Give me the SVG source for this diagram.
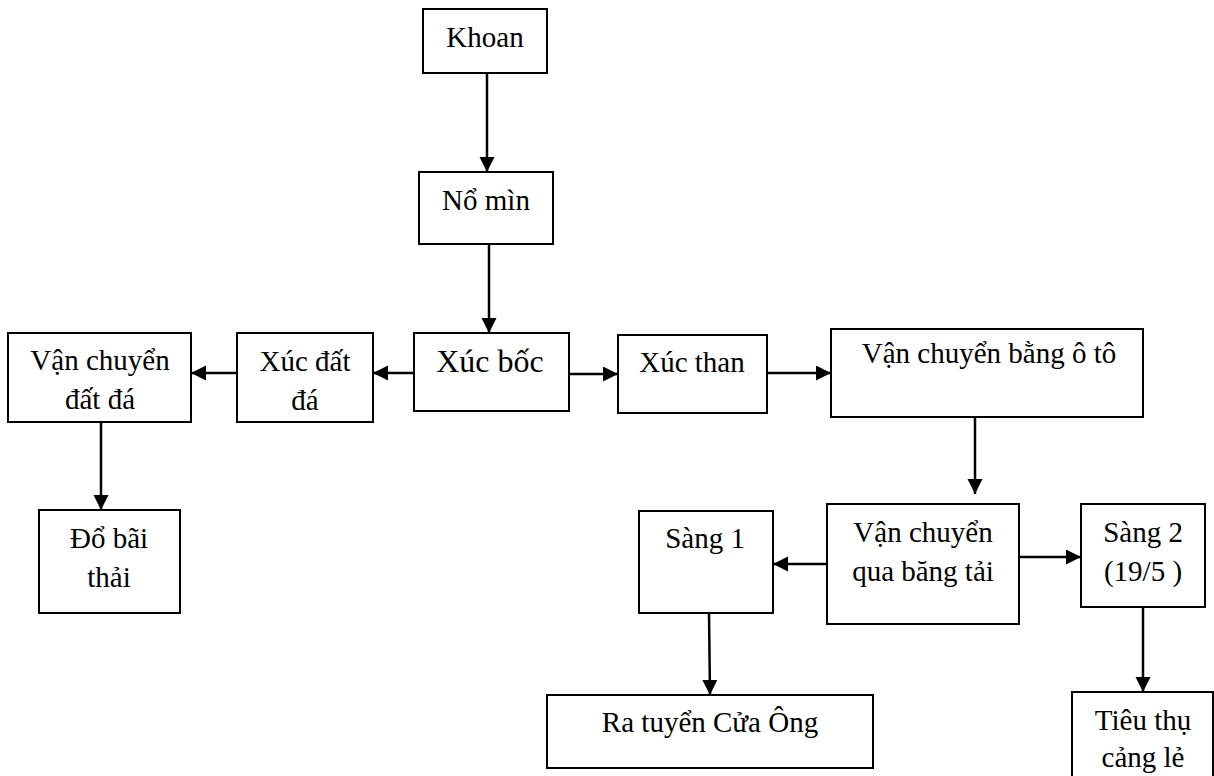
<svg xmlns="http://www.w3.org/2000/svg" width="1214" height="776" viewBox="0 0 1214 776">
  <style>
    .box { fill: #ffffff; stroke: #000000; stroke-width: 2; }
    .lbl { font-family: "Liberation Serif", "Times New Roman", serif; font-size: 29px; fill: #000000; text-anchor: middle; }
    .big { font-size: 32px; }
    .flow { fill: none; stroke: #000000; stroke-width: 2.5; marker-end: url(#head); }
  </style>
  <defs>
    <marker id="head" markerUnits="userSpaceOnUse" markerWidth="16" markerHeight="16" viewBox="0 0 16 16" refX="15" refY="7.5" orient="auto">
      <path d="M0,0 L15,7.5 L0,15 z" fill="#000000"/>
    </marker>
  </defs>
  <rect width="1214" height="776" fill="#ffffff"/>

  <!-- connectors -->
  <g id="connectors">
    <line class="flow" x1="487" y1="73" x2="487" y2="172"/>
    <line class="flow" x1="489" y1="244" x2="489" y2="333"/>
    <line class="flow" x1="414" y1="373" x2="373" y2="373"/>
    <line class="flow" x1="237" y1="373" x2="191" y2="373"/>
    <line class="flow" x1="101" y1="422" x2="101" y2="510"/>
    <line class="flow" x1="569" y1="374" x2="618" y2="374"/>
    <line class="flow" x1="767" y1="373" x2="831" y2="373"/>
    <line class="flow" x1="975" y1="417" x2="975" y2="494"/>
    <line class="flow" x1="829" y1="564" x2="773" y2="564"/>
    <line class="flow" x1="1017" y1="557" x2="1081" y2="557"/>
    <line class="flow" x1="709" y1="613" x2="710" y2="695"/>
    <line class="flow" x1="1143" y1="607" x2="1143" y2="692"/>
  </g>

  <g id="khoan">
    <rect class="box" x="423" y="9" width="124" height="64"/>
    <text class="lbl" x="485" y="47">Khoan</text>
  </g>
  <g id="no-min">
    <rect class="box" x="419" y="172" width="134" height="72"/>
    <text class="lbl" x="486" y="210">Nổ mìn</text>
  </g>
  <g id="xuc-boc">
    <rect class="box" x="414" y="333" width="155" height="78"/>
    <text class="lbl big" x="490" y="372">Xúc bốc</text>
  </g>
  <g id="xuc-dat-da">
    <rect class="box" x="237" y="333" width="136" height="89"/>
    <text class="lbl" x="305" y="371">Xúc đất</text>
    <text class="lbl" x="305" y="410">đá</text>
  </g>
  <g id="van-chuyen-dat-da">
    <rect class="box" x="8" y="333" width="183" height="89"/>
    <text class="lbl" x="100" y="370">Vận chuyển</text>
    <text class="lbl" x="100" y="409">đất đá</text>
  </g>
  <g id="do-bai-thai">
    <rect class="box" x="39" y="510" width="141" height="103"/>
    <text class="lbl" x="109" y="548">Đổ bãi</text>
    <text class="lbl" x="109" y="587">thải</text>
  </g>
  <g id="xuc-than">
    <rect class="box" x="618" y="335" width="149" height="78"/>
    <text class="lbl" x="692" y="372">Xúc than</text>
  </g>
  <g id="van-chuyen-o-to">
    <rect class="box" x="831" y="329" width="312" height="88"/>
    <text class="lbl" x="989" y="363">Vận chuyển bằng ô tô</text>
  </g>
  <g id="van-chuyen-bang-tai">
    <rect class="box" x="827" y="504" width="192" height="120"/>
    <text class="lbl" x="923" y="542">Vận chuyển</text>
    <text class="lbl" x="923" y="581">qua băng tải</text>
  </g>
  <g id="sang-1">
    <rect class="box" x="639" y="511" width="134" height="102"/>
    <text class="lbl" x="705" y="548">Sàng 1</text>
  </g>
  <g id="ra-tuyen">
    <rect class="box" x="547" y="695" width="326" height="73"/>
    <text class="lbl" x="710" y="732">Ra tuyển Cửa Ông</text>
  </g>
  <g id="sang-2">
    <rect class="box" x="1081" y="504" width="124" height="103"/>
    <text class="lbl" x="1143" y="542">Sàng 2</text>
    <text class="lbl" x="1143" y="581">(19/5 )</text>
  </g>
  <g id="tieu-thu">
    <rect class="box" x="1072" y="692" width="141" height="110"/>
    <text class="lbl" x="1143" y="730">Tiêu thụ</text>
    <text class="lbl" x="1143" y="767">cảng lẻ</text>
  </g>
</svg>
